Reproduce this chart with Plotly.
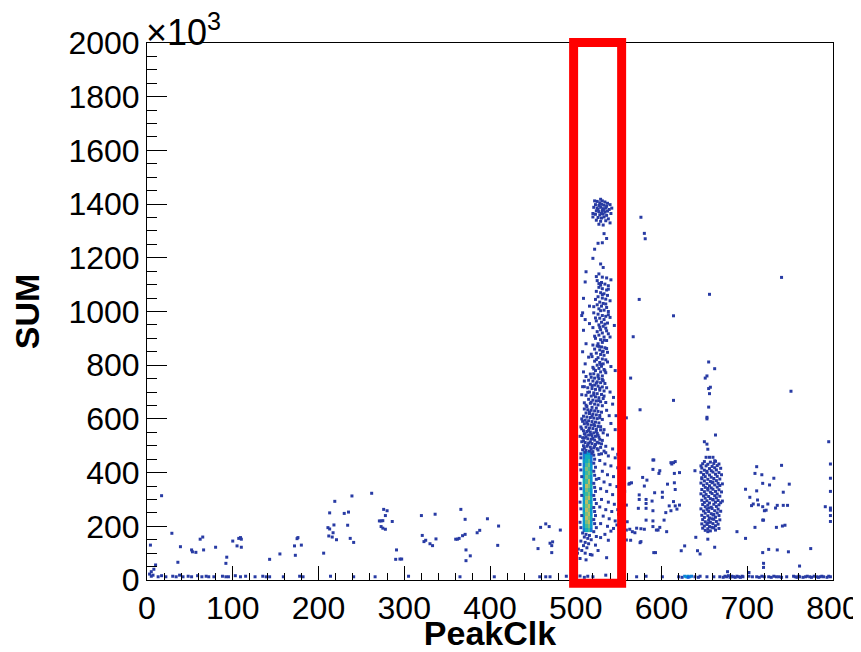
import plotly.graph_objects as go

# ---------------- data (PeakClk, SUM in units of 10^3) ----------------
left_pts = [
    (17, 314), (4, 130), (29, 174), (10, 56), (39, 124), (36, 66), (52, 112), (53, 105), (57, 103),
    (62, 152), (65, 160), (66, 112), (80, 122), (92, 62), (93, 85), (100, 145), (105, 127), (107, 155),
    (109, 158), (110, 152), (110, 122), (143, 77), (155, 97), (173, 92), (172, 127), (175, 154),
    (176, 158), (180, 130), (206, 100), (211, 195), (213, 190), (213, 250), (212, 164), (216, 160),
    (217, 176), (218, 205), (219, 293), (221, 150), (230, 248), (234, 204), (235, 253), (237, 155),
    (239, 313), (241, 140), (262, 323), (271, 220), (273, 220), (275, 221), (273, 199), (275, 193),
    (276, 263), (278, 240), (280, 258), (278, 189), (286, 218), (291, 112), (290, 77), (295, 78),
    (297, 78), (320, 240), (321, 166), (323, 143), (325, 148), (330, 135), (333, 128), (337, 153),
    (336, 245), (360, 152), (362, 152), (364, 155), (366, 263), (368, 165), (371, 226), (372, 112),
    (372, 72), (371, 170), (377, 90), (385, 176), (388, 185), (397, 228), (409, 129), (410, 201),
    (459, 196), (465, 209), (469, 199), (482, 186), (451, 152), (470, 137), (473, 142), (472, 128),
    (456, 117), (472, 102), (5, 31), (8, 40),
]

trail_pts = [
    # upper blob
    (525, 1410), (528, 1405), (531, 1412), (534, 1408), (537, 1403), (523, 1398), (527, 1395),
    (530, 1399), (533, 1396), (536, 1392), (540, 1398), (521, 1388), (525, 1385), (529, 1388),
    (532, 1383), (535, 1386), (539, 1380), (524, 1375), (527, 1372), (531, 1376), (534, 1370),
    (537, 1374), (520, 1365), (523, 1362), (528, 1360), (532, 1363), (536, 1358), (541, 1365),
    (526, 1350), (530, 1348), (533, 1352), (538, 1345), (524, 1340), (529, 1336), (535, 1338),
    (527, 1325), (532, 1322), (540, 1330), (520, 1352), (542, 1385), (522, 1412), (529, 1418),
    (526, 1380), (533, 1380), (530, 1365),
    # sparse 1100-1300
    (526, 1254), (531, 1256), (536, 1272), (520, 1198), (529, 1177), (532, 1164), (512, 1148),
    (511, 1110), (527, 1140), (524, 1130), (531, 1128), (536, 1125), (533, 1290), (522, 1232),
    # 1000-1120
    (525, 1115), (530, 1108), (534, 1102), (538, 1096), (527, 1090), (531, 1085), (536, 1080),
    (524, 1075), (529, 1070), (533, 1066), (537, 1060), (526, 1055), (531, 1050), (535, 1046),
    (540, 1040), (528, 1035), (532, 1030), (525, 1025), (530, 1020), (536, 1015), (527, 1010),
    (533, 1005), (538, 1000), (509, 1049), (508, 995), (507, 985), (529, 1098), (523, 1045),
    # 880-1000
    (521, 995), (526, 990), (531, 985), (535, 982), (540, 978), (528, 975), (533, 970), (524, 965),
    (530, 960), (537, 957), (527, 950), (532, 945), (520, 940), (535, 938), (529, 932), (525, 925),
    (531, 920), (538, 917), (527, 912), (533, 905), (523, 900), (529, 895), (536, 892), (531, 885),
    (526, 880), (511, 970), (509, 930), (545, 948), (516, 955), (540, 905),
    # 760-880
    (520, 875), (525, 872), (530, 868), (534, 865), (522, 860), (528, 857), (532, 852), (537, 848),
    (524, 845), (529, 840), (533, 837), (519, 832), (526, 828), (531, 823), (535, 820), (522, 815),
    (528, 810), (532, 805), (525, 800), (530, 796), (520, 792), (527, 788), (533, 784), (523, 780),
    (529, 775), (535, 772), (521, 768), (526, 764), (531, 760), (508, 850), (511, 805), (515, 830),
    (541, 795), (546, 780), (509, 775),
    # 640-760
    (512, 758), (518, 755), (522, 752), (527, 750), (531, 747), (515, 744), (520, 741), (525, 738),
    (529, 735), (534, 732), (517, 729), (522, 726), (526, 722), (531, 719), (514, 716), (519, 713),
    (523, 710), (528, 707), (533, 704), (516, 700), (521, 697), (525, 694), (530, 691), (512, 688),
    (518, 685), (523, 682), (527, 679), (532, 676), (515, 673), (520, 670), (524, 667), (529, 664),
    (535, 661), (517, 658), (522, 655), (526, 652), (531, 649), (513, 646), (519, 643), (524, 640),
    (508, 720), (507, 690), (540, 700), (544, 680), (510, 660),
    # 520-640
    (510, 637), (514, 634), (518, 632), (522, 630), (526, 628), (530, 625), (512, 622), (516, 620),
    (520, 618), (524, 615), (528, 613), (509, 610), (513, 607), (517, 605), (521, 603), (525, 601),
    (531, 598), (511, 595), (515, 593), (519, 590), (523, 588), (527, 585), (510, 582), (514, 580),
    (518, 577), (522, 575), (526, 572), (512, 569), (516, 566), (520, 564), (524, 561), (529, 559),
    (509, 556), (513, 553), (517, 551), (521, 548), (525, 546), (511, 543), (515, 540), (519, 537),
    (523, 535), (527, 532), (510, 529), (514, 526), (518, 524), (522, 521), (507, 600), (506, 570),
    (533, 560), (537, 540), (531, 520), (508, 530),
    # halo around dense block
    (507, 515), (511, 512), (515, 510), (519, 508), (523, 505), (509, 500), (513, 498), (517, 495),
    (521, 492), (525, 489), (508, 485), (512, 483), (516, 480), (520, 478), (506, 470), (521, 465),
    (522, 450), (521, 435), (523, 420), (521, 405), (522, 390), (524, 375), (521, 360), (522, 345),
    (523, 330), (521, 315), (522, 300), (524, 285), (521, 270), (522, 255), (523, 240), (521, 225),
    (522, 210), (524, 195), (521, 180), (506, 455), (505, 430), (506, 410), (507, 385), (505, 360),
    (506, 340), (507, 315), (505, 290), (506, 265), (507, 240), (505, 215), (506, 195),
    # right of block
    (527, 510), (535, 498), (543, 488), (530, 470), (538, 462), (546, 455), (528, 445), (534, 432),
    (541, 425), (549, 418), (531, 405), (537, 392), (544, 385), (527, 378), (533, 365), (540, 355),
    (548, 348), (529, 340), (536, 330), (543, 318), (552, 310), (530, 300), (538, 290), (545, 282),
    (528, 272), (535, 262), (542, 255), (550, 245), (532, 238), (539, 228), (546, 220), (529, 210),
    (537, 200), (544, 192), (555, 270), (557, 330), (553, 380),
    # below block
    (508, 175), (512, 170), (516, 166), (510, 160), (514, 155), (518, 150), (506, 145), (511, 140),
    (515, 135), (509, 128), (513, 120), (503, 115), (507, 110), (511, 100), (517, 95), (519, 93),
    (502, 100), (500, 90), (536, 83), (505, 80), (512, 75), (523, 130), (526, 110),
]

# extra, less regular hits along the band
trail_extra = [
    (516, 626), (519, 611), (528, 604), (508, 591), (513, 586), (521, 579), (529, 571), (507, 563),
    (515, 557), (524, 553), (532, 548), (510, 545), (518, 542), (526, 539), (505, 535), (512, 533),
    (520, 527), (528, 524), (509, 518), (517, 514), (525, 513), (530, 507), (514, 503), (522, 498),
    (529, 494), (510, 491), (518, 487), (526, 484), (533, 480), (511, 476), (519, 472), (527, 468),
    (535, 474), (539, 612), (541, 583), (536, 632), (512, 651), (518, 662), (527, 668), (533, 685),
    (521, 689), (514, 699), (528, 714), (536, 716), (519, 724), (524, 733), (532, 742), (510, 741),
    (526, 757), (517, 767), (534, 779), (521, 786), (529, 803), (537, 812), (524, 821), (518, 841),
    (531, 850), (536, 862), (527, 870), (533, 893), (522, 908), (536, 928), (528, 941), (534, 953),
    (523, 976), (538, 988), (529, 1003), (521, 1018), (535, 1028), (531, 1063), (538, 1083),
    (527, 1104), (541, 1118), (516, 1020), (512, 880), (510, 720), (543, 655), (547, 612),
    (546, 560), (551, 530), (549, 468), (556, 432), (553, 402), (551, 360), (556, 302), (549, 262),
    (554, 232), (548, 205), (541, 182), (534, 170), (529, 158), (538, 148), (524, 162),
]

right_pts = [
    (559, 279), (560, 217), (559, 186), (563, 189), (566, 180), (559, 149), (564, 148), (562, 417),
    (563, 360), (569, 176), (574, 317), (574, 300), (573, 267), (576, 191), (576, 143), (578, 382),
    (580, 350), (580, 189), (582, 300), (582, 285), (582, 267), (583, 372), (582, 223), (590, 447),
    (591, 447), (590, 412), (590, 258), (590, 220), (590, 199), (589, 294), (591, 102), (593, 102),
    (592, 325), (594, 186), (596, 186), (597, 397), (598, 407), (598, 196), (601, 308), (601, 327),
    (603, 223), (605, 251), (606, 180), (607, 357), (609, 276), (611, 258), (611, 437), (612, 432),
    (614, 437), (616, 441), (614, 292), (615, 362), (615, 397), (616, 337), (616, 276), (618, 264),
    (621, 279), (621, 400), (623, 109), (627, 127), (642, 109), (645, 97), (640, 159), (639, 407),
    (562, 357), (565, 362), (571, 193), (575, 139),
    (688, 180), (698, 338), (698, 155), (703, 308), (705, 277), (707, 283), (709, 397), (709, 196),
    (711, 422), (711, 332), (712, 298), (713, 280), (717, 392), (718, 360), (718, 273), (720, 258),
    (718, 223), (719, 223), (718, 102), (719, 62), (719, 47), (722, 260), (724, 283), (725, 114),
    (726, 354), (731, 379), (733, 268), (734, 196), (735, 112), (735, 278), (740, 427), (741, 201),
    (742, 327), (742, 278), (744, 204), (747, 278), (748, 105), (749, 357), (761, 52), (774, 117),
    (791, 273), (795, 515), (797, 432), (797, 379), (797, 330), (797, 268), (797, 260), (797, 240),
    (797, 218),
    # sparse high points
    (576, 1351), (580, 1291), (581, 1271), (574, 1045), (614, 984), (567, 906), (656, 1064),
    (740, 1127), (614, 669), (564, 752), (575, 634), (559, 604), (751, 703),
]

cluster660_pts = [
    (650, 441), (657, 439), (663, 442), (648, 433), (654, 431), (661, 434), (667, 432),
    (652, 425), (659, 423), (665, 426), (647, 417), (656, 415), (662, 418), (669, 416),
    (650, 409), (658, 407), (664, 410), (653, 405), (646, 401), (653, 399), (660, 402), (667, 400),
    (649, 393), (656, 391), (663, 394), (670, 392), (651, 385), (658, 383), (665, 386), (647, 381),
    (647, 377), (654, 375), (661, 378), (668, 376), (650, 369), (657, 367), (664, 370), (660, 365),
    (646, 361), (653, 359), (659, 362), (666, 360), (671, 358), (649, 353), (656, 351), (662, 354),
    (668, 352), (651, 345), (658, 343), (665, 346), (654, 341), (647, 337), (654, 335), (660, 338),
    (667, 336), (650, 329), (657, 327), (663, 330), (670, 328), (646, 321), (652, 319), (659, 322),
    (665, 320), (649, 313), (655, 311), (662, 314), (668, 312), (651, 305), (657, 303), (664, 306),
    (660, 300), (647, 297), (653, 295), (660, 298), (666, 296), (671, 294), (650, 289), (656, 287),
    (663, 290), (669, 288), (648, 281), (654, 279), (661, 282), (667, 280), (651, 273), (658, 271),
    (664, 274), (655, 268), (646, 265), (653, 263), (659, 266), (666, 264), (649, 257), (655, 255),
    (662, 258), (669, 256), (651, 249), (658, 247), (665, 250), (661, 244), (647, 241), (654, 239),
    (660, 242), (667, 240), (650, 233), (656, 231), (663, 234), (659, 228), (648, 225), (655, 223),
    (661, 226), (668, 224), (651, 217), (657, 215), (664, 218), (654, 212), (647, 209), (653, 207),
    (660, 210), (666, 208), (650, 201), (656, 199), (663, 202), (659, 196), (648, 193), (654, 191),
    (661, 194), (667, 192), (651, 185), (657, 183), (663, 186), (654, 180),
    # sparse around the cluster
    (650, 515), (653, 506), (654, 487), (646, 425), (652, 457), (656, 457), (660, 457), (662, 444),
    (654, 152), (662, 122), (655, 812), (662, 787), (653, 760), (651, 752), (657, 718), (655, 713),
    (656, 694), (655, 644), (653, 606), (653, 600), (663, 540),
]

bottom_pts = [
    (3, 22), (5, 14), (7, 18), (13, 12), (17, 16), (22, 12), (30, 14), (34, 12), (38, 18), (42, 12),
    (48, 14), (52, 12), (59, 16), (64, 12), (69, 14), (72, 12), (78, 12), (88, 14), (92, 12), (95, 12),
    (103, 16), (109, 12), (115, 14), (126, 12), (135, 14), (139, 12), (143, 12), (159, 12), (178, 14),
    (182, 12), (214, 14), (241, 12), (266, 12), (305, 14), (365, 12), (405, 12), (458, 12), (465, 12),
    (470, 12), (489, 14), (501, 12), (505, 15), (510, 10), (514, 14), (520, 12), (535, 18),
    (571, 12), (582, 14), (601, 12), (620, 12), (624, 10), (639, 12), (643, 10), (645, 14), (653, 12),
    (661, 12), (668, 12), (672, 10), (674, 14), (676, 12), (678, 16), (680, 10), (682, 14), (684, 12),
    (686, 10), (688, 14), (690, 12), (692, 10), (694, 14), (695, 12), (702, 14), (706, 12), (711, 12),
    (714, 10), (717, 14), (720, 12), (725, 12), (728, 10), (731, 14), (734, 12), (737, 12), (740, 10),
    (746, 12), (754, 14), (756, 12), (758, 10), (760, 14), (761, 12), (765, 10), (768, 12), (770, 14),
    (773, 12), (775, 10), (778, 14), (781, 12), (783, 10), (785, 12), (787, 14), (789, 12), (793, 10),
    (795, 14), (797, 12), (677, 31), (702, 28),
]
# multiply-filled cells near PeakClk ~ 630
bright_pts = [(627, 14), (629, 12), (631, 14), (633, 12), (635, 14), (631, 10)]
bright_counts = [3, 4, 4, 3, 3, 2]

# dense core of the main band: 2D-histogram counts
core_x = [509.5, 512.5, 515.5, 518.5]
core_y = [187.5, 202.5, 217.5, 232.5, 247.5, 262.5, 277.5, 292.5, 307.5, 322.5,
          337.5, 352.5, 367.5, 382.5, 397.5, 412.5, 427.5, 442.5, 457.5, 472.5]
core_z = [
    [3, 5, 6, 3], [4, 6, 7, 4], [4, 7, 8, 4], [4, 8, 7, 5], [5, 7, 8, 4],
    [4, 8, 7, 4], [5, 7, 8, 5], [4, 8, 6, 4], [4, 7, 8, 5], [5, 6, 7, 4],
    [4, 7, 6, 4], [4, 8, 7, 5], [5, 6, 8, 4], [4, 7, 6, 4], [4, 6, 7, 5],
    [4, 7, 6, 4], [3, 6, 7, 4], [4, 5, 6, 3], [3, 5, 5, 3], [3, 4, 4, 3],
]

# highlighted PeakClk window
window_x = [497.5, 553.5]

x_ticks = [0, 100, 200, 300, 400, 500, 600, 700, 800]
y_ticks = [0, 200, 400, 600, 800, 1000, 1200, 1400, 1600, 1800, 2000]

KBIRD = [
    [0.0, 'rgb(53,42,135)'], [0.125, 'rgb(15,92,221)'], [0.25, 'rgb(18,125,216)'],
    [0.375, 'rgb(7,156,207)'], [0.5, 'rgb(21,177,180)'], [0.625, 'rgb(89,189,140)'],
    [0.75, 'rgb(165,190,107)'], [0.875, 'rgb(225,185,82)'], [1.0, 'rgb(248,250,13)'],
]
CMIN, CMAX = 0.6, 10

single = left_pts + trail_pts + trail_extra + right_pts + cluster660_pts + bottom_pts
sx = [p[0] for p in single] + [p[0] for p in bright_pts]
sy = [p[1] for p in single] + [p[1] for p in bright_pts]
sc = [1] * len(single) + bright_counts

FONT = "Liberation Sans, Arial, Helvetica, sans-serif"

fig = go.Figure()
fig.add_trace(go.Heatmap(
    x=core_x, y=core_y, z=core_z, colorscale=KBIRD, zmin=CMIN, zmax=CMAX,
    showscale=False, hoverinfo='skip',
))
fig.add_trace(go.Scatter(
    x=sx, y=sy, mode='markers',
    marker=dict(symbol='square', size=3, color=sc, colorscale=KBIRD, cmin=CMIN, cmax=CMAX,
                line=dict(width=0)),
    showlegend=False, hoverinfo='skip',
))

fig.add_shape(type='rect', xref='x', yref='paper', x0=window_x[0], x1=window_x[1],
              y0=-0.006, y1=1.001, line=dict(color='#ff0000', width=9), layer='above')

axis_common = dict(
    showgrid=False, zeroline=False, showline=True, linecolor='black', linewidth=1,
    mirror=True, ticks='inside', tickcolor='black', tickwidth=1, automargin=False,
    tickfont=dict(family=FONT, size=32, color='black'),
)
fig.update_xaxes(
    range=[0, 800], tickvals=x_ticks, ticklen=14,
    minor=dict(dtick=20, ticklen=7, ticks='inside', tickcolor='black', tickwidth=1),
    title=dict(text='<b>PeakClk</b>', font=dict(family=FONT, size=34, color='black'), standoff=9),
    **axis_common,
)
fig.update_yaxes(
    range=[0, 2000], tickvals=y_ticks, ticklen=20,
    minor=dict(dtick=50, ticklen=10, ticks='inside', tickcolor='black', tickwidth=1),
    title=dict(text='<b>SUM</b>', font=dict(family=FONT, size=34, color='black'), standoff=20),
    **axis_common,
)
fig.add_annotation(
    text='×10<sup>3</sup>', xref='paper', yref='paper', x=0, y=1, xanchor='left', yanchor='bottom',
    showarrow=False, font=dict(family=FONT, size=36, color='black'), yshift=-12, xshift=-3,
)
# the page body adds an 8 px offset, so the figure is 8 px smaller than the window
fig.update_layout(
    width=853, height=644, margin=dict(l=139, r=28, t=35, b=72),
    paper_bgcolor='white', plot_bgcolor='white', showlegend=False,
)
fig.write_html("out.html")
